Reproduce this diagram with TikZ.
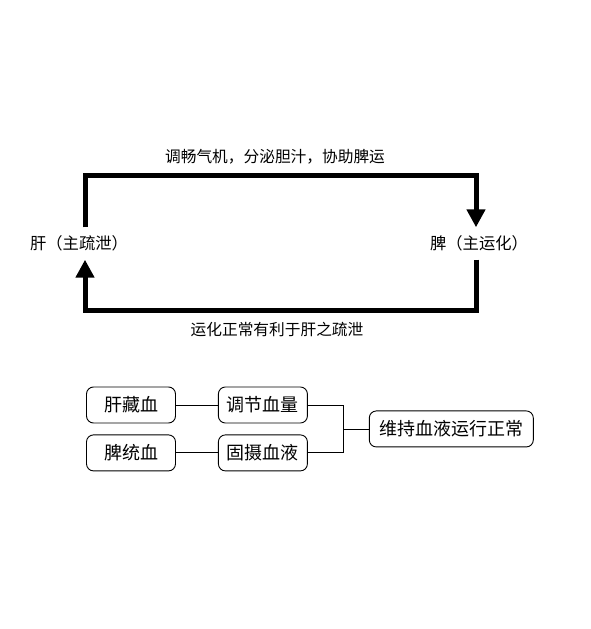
\documentclass[tikz,border=0pt]{standalone}
\usepackage{fontspec}
\setmainfont{Noto Sans CJK SC}
\usetikzlibrary{arrows.meta,positioning,calc}

\begin{document}
\begin{tikzpicture}[x=1pt,y=1pt,
  organ/.style={font=\fontsize{16.3}{18}\selectfont,minimum height=32pt,inner sep=0pt},
  note/.style={font=\fontsize{15.7}{18}\selectfont,inner sep=0pt},
  box/.style={draw,rounded corners=7pt,line width=0.9pt,align=center,
              font=\fontsize{18}{20}\selectfont,minimum width=89pt,minimum height=36pt,inner xsep=8pt},
  flow/.style={-{Triangle[length=18pt,width=18pt]},line width=5pt},
  link/.style={line width=0.8pt}]
\useasboundingbox (0,0) rectangle (590,629);
\node[organ] (gan) at (79,385.5) {肝（主疏泄）};
\node[organ] (pi) at (479,385.5) {脾（主运化）};
\coordinate (top) at (0,453.5);
\coordinate (bot) at (0,318);
\coordinate (ganup) at ([xshift=6pt]gan.north);
\coordinate (gandn) at ([xshift=6pt]gan.south);
\coordinate (piup) at ([xshift=-3pt]pi.north);
\coordinate (pidn) at ([xshift=-3pt]pi.south);
\draw[flow] (ganup) -- (ganup |- top) -| (piup);
\draw[flow] (pidn) -- (pidn |- bot) -| (gandn);
\node[note] (toptxt) at (275,472) {调畅气机，分泌胆汁，协助脾运};
\node[note] (bottxt) at (277,299) {运化正常有利于肝之疏泄};
% blood
\node[box] (ganzang) at (131,224) {肝藏血};
\node[box,below=11pt of ganzang] (pitong) {脾统血};
\node[box,right=42pt of ganzang] (tiaojie) {调节血量};
\node[box,right=42pt of pitong] (gushe) {固摄血液};
\coordinate (mid) at ($(tiaojie.east)!0.5!(gushe.east)$);
\node[box,right=61pt of mid,minimum width=164pt] (weichi) {维持血液运行正常};
\draw[link] (ganzang) -- (tiaojie);
\draw[link] (pitong) -- (gushe);
\draw[link] (tiaojie.east) -- ++(36,0) |- (gushe.east);
\draw[link] (weichi.west) -- ++(-25,0);
\end{tikzpicture}
\end{document}
